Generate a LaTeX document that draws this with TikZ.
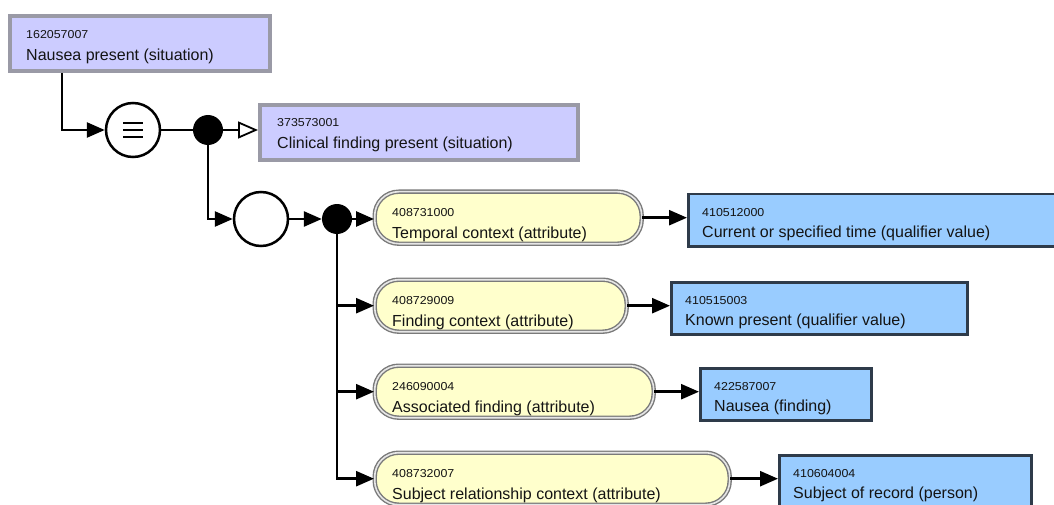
\documentclass[tikz,border=0pt]{standalone}
\usepackage{fontspec}
\setmainfont{Liberation Sans}
\newfontfamily\idfont[FakeStretch=1.08]{Liberation Sans}
\usetikzlibrary{arrows.meta}
\definecolor{lav}{HTML}{CCCCFF}
\definecolor{lavborder}{HTML}{9A9AA6}
\definecolor{attrfill}{HTML}{FFFFCC}
\definecolor{attrborder}{HTML}{7A7A7A}
\definecolor{attrgap}{HTML}{E6E6E6}
\definecolor{valfill}{HTML}{99CCFF}
\definecolor{valborder}{HTML}{2E3B4A}
\definecolor{txt}{HTML}{141414}
\begin{document}
\begin{tikzpicture}[x=1pt,y=-1pt,
  defbox/.style={rectangle, draw=lavborder, line width=3.8pt, fill=lav, anchor=north west, inner sep=0pt},
  attrbox/.style={rectangle, draw=attrborder, line width=1.4pt, double=attrgap, double distance=1.6pt, fill=attrfill, rounded corners=24pt, anchor=north west, inner sep=0pt},
  valbox/.style={rectangle, draw=valborder, line width=2.5pt, fill=valfill, anchor=north west, inner sep=0pt},
  idtxt/.style={anchor=base west, inner sep=0pt, text=txt, font=\idfont\fontsize{11.5}{11.5}\selectfont},
  nametxt/.style={anchor=base west, inner sep=0pt, text=txt, font=\fontsize{16}{16}\selectfont},
  conn/.style={line width=2.6pt, draw=black},
  arr/.style={conn, -{Triangle[length=18pt,width=15pt]}},
  isa/.style={conn, -{Triangle[open, length=20pt, width=17pt, fill=white, line width=1.8pt]}},
  ring/.style={circle, draw=black, line width=2.5pt, fill=white, minimum size=54pt, inner sep=0pt},
  blackdot/.style={circle, fill=black, minimum size=30pt, inner sep=0pt},
]
\clip (0,0) rectangle (1054,505);
\fill[white] (0,0) rectangle (1054,505);

% defined concepts
\node[defbox, minimum width=260pt, minimum height=55pt] (n1) at (8,14) {};
\node[idtxt] (n1i) at ([shift={(18,25)}]n1.north west) {162057007};
\node[nametxt] (n1n) at ([shift={(18,47)}]n1.north west) {Nausea present (situation)};

\node[defbox, minimum width=318pt, minimum height=55pt] (n2) at (258,103) {};
\node[idtxt] (n2i) at ([shift={(19,24)}]n2.north west) {373573001};
\node[nametxt] (n2n) at ([shift={(19,46)}]n2.north west) {Clinical finding present (situation)};

% operators
\node[ring] (r1) at (133,130) {};
\draw[line width=2.6pt] ([shift={(-10,-7)}]r1.center) -- ++(20,0)
                      ([shift={(-10,0)}]r1.center) -- ++(20,0)
                      ([shift={(-10,7)}]r1.center) -- ++(20,0);
\node[blackdot] (d1) at (208,130) {};
\node[ring] (r2) at (261,219) {};
\node[blackdot] (d2) at (337,219) {};

% attributes
\node[attrbox, minimum width=267pt, minimum height=52pt] (a1) at (374,191) {};
\node[idtxt] (a1i) at ([shift={(18,25)}]a1.north west) {408731000};
\node[nametxt] (a1n) at ([shift={(18,47)}]a1.north west) {Temporal context (attribute)};

\node[attrbox, minimum width=252pt, minimum height=52pt] (a2) at (374,279) {};
\node[idtxt] (a2i) at ([shift={(18,25)}]a2.north west) {408729009};
\node[nametxt] (a2n) at ([shift={(18,47)}]a2.north west) {Finding context (attribute)};

\node[attrbox, minimum width=279pt, minimum height=52pt] (a3) at (374,365) {};
\node[idtxt] (a3i) at ([shift={(18,25)}]a3.north west) {246090004};
\node[nametxt] (a3n) at ([shift={(18,47)}]a3.north west) {Associated finding (attribute)};

\node[attrbox, minimum width=355pt, minimum height=52pt] (a4) at (374,452) {};
\node[idtxt] (a4i) at ([shift={(18,25)}]a4.north west) {408732007};
\node[nametxt] (a4n) at ([shift={(18,47)}]a4.north west) {Subject relationship context (attribute)};

% values
\node[valbox, minimum width=372pt, minimum height=52pt] (v1) at (687,193) {};
\node[idtxt] (v1i) at ([shift={(15,23)}]v1.north west) {410512000};
\node[nametxt] (v1n) at ([shift={(15,44)}]v1.north west) {Current or specified time (qualifier value)};

\node[valbox, minimum width=296pt, minimum height=52pt] (v2) at (670,281) {};
\node[idtxt] (v2i) at ([shift={(15,23)}]v2.north west) {410515003};
\node[nametxt] (v2n) at ([shift={(15,44)}]v2.north west) {Known present (qualifier value)};

\node[valbox, minimum width=171pt, minimum height=52pt] (v3) at (699,367) {};
\node[idtxt] (v3i) at ([shift={(15,23)}]v3.north west) {422587007};
\node[nametxt] (v3n) at ([shift={(15,44)}]v3.north west) {Nausea (finding)};

\node[valbox, minimum width=252pt, minimum height=52pt] (v4) at (778,454) {};
\node[idtxt] (v4i) at ([shift={(15,23)}]v4.north west) {410604004};
\node[nametxt] (v4n) at ([shift={(15,44)}]v4.north west) {Subject of record (person)};

% connectors
\draw[arr] ([xshift=54pt]n1.south west) |- (r1.west);
\draw[conn] (r1) -- (d1);
\draw[isa] (d1) -- (d1 -| n2.west);
\draw[arr] (d1) |- (r2.west);
\draw[arr] (r2) -- (d2);
\draw[arr] (d2) -- (d2 -| a1.west);
\draw[arr] (d2) |- (a2.west);
\draw[arr] (d2) |- (a3.west);
\draw[arr] (d2) |- (a4.west);
\draw[arr] (a1.east) -- (v1.west |- a1.east);
\draw[arr] (a2.east) -- (v2.west |- a2.east);
\draw[arr] (a3.east) -- (v3.west |- a3.east);
\draw[arr] (a4.east) -- (v4.west |- a4.east);
\end{tikzpicture}
\end{document}
